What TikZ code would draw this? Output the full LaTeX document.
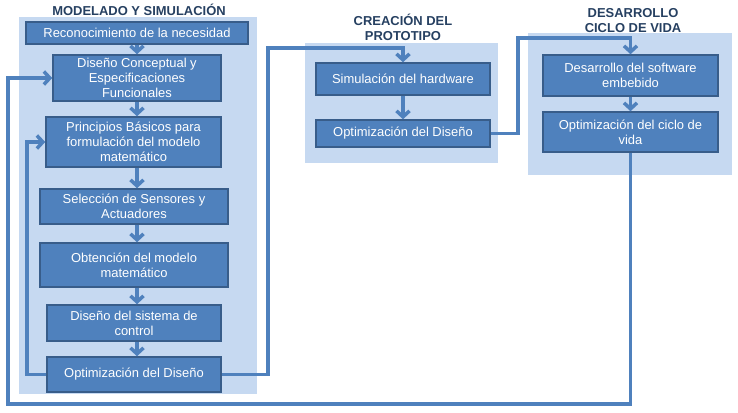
\documentclass[tikz,border=0pt]{standalone}
\usepackage{fontspec}
\setmainfont{Liberation Sans}
\usetikzlibrary{arrows.meta}
\definecolor{panelblue}{RGB}{198,217,241}
\definecolor{boxblue}{RGB}{79,129,189}
\definecolor{boxedge}{RGB}{56,93,138}
\definecolor{titleblue}{RGB}{38,64,97}

\begin{document}
\begin{tikzpicture}[x=1bp,y=-1bp,
  panel/.style={fill=panelblue},
  caja/.style={draw=boxedge,line width=1.5bp,fill=boxblue,text=white,align=center,
    font=\fontsize{13}{15}\selectfont,inner sep=2bp},
  titulo/.style={text=titleblue,font=\fontsize{13}{15}\selectfont\bfseries,align=center},
  flecha/.style={draw=boxblue,line width=3.5bp,-{Straight Barb[length=6bp,width=13bp]}}]
  \useasboundingbox (0,0) rectangle (738,412);

  %Panels (background)
  \fill[panel] (19,17) rectangle (257,394);
  \fill[panel] (305,43) rectangle (498,163);
  \fill[panel] (528,33) rectangle (732,175);

  %Titles
  \node[titulo] (t1) at (139,10) {MODELADO Y SIMULACIÓN};
  \node[titulo] (t2) at (403,27) {CREACIÓN DEL\\PROTOTIPO};
  \node[titulo] (t3) at (633,21) {DESARROLLO\\CICLO DE VIDA};

  %Modelado y simulacion
  \node[caja,minimum width=222bp,minimum height=22bp] (rec) at (137,33) {Reconocimiento de la necesidad};
  \node[caja,minimum width=168bp,minimum height=46bp] (dis) at (137,78) {Diseño Conceptual y\\Especificaciones\\Funcionales};
  \node[caja,minimum width=175bp,minimum height=50bp] (pri) at (133.5,142) {Principios Básicos para\\formulación del modelo\\matemático};
  \node[caja,minimum width=188bp,minimum height=35bp] (sel) at (134,206.5) {Selección de Sensores y\\Actuadores};
  \node[caja,minimum width=188bp,minimum height=44bp] (obt) at (134,265) {Obtención del modelo\\matemático};
  \node[caja,minimum width=174bp,minimum height=36bp] (dsc) at (134,323) {Diseño del sistema de\\control};
  \node[caja,minimum width=174bp,minimum height=35bp] (opt1) at (134,374.5) {Optimización del Diseño};

  %Prototipo
  \node[caja,minimum width=174bp,minimum height=32bp] (sim) at (403,79) {Simulación del hardware};
  \node[caja,minimum width=174bp,minimum height=27bp] (opt2) at (403,133.5) {Optimización del Diseño};

  %Ciclo de vida
  \node[caja,minimum width=175bp,minimum height=41bp] (emb) at (630.5,75.5) {Desarrollo del software\\embebido};
  \node[caja,minimum width=175bp,minimum height=40bp] (ocv) at (630.5,132) {Optimización del ciclo de\\vida};

  %Arrows between boxes
  \foreach \a/\b in {rec/dis,dis/pri,pri/sel,sel/obt,obt/dsc,dsc/opt1}
    \draw[flecha] (\a.south -| rec.south) -- (\b.north -| rec.south);
  \draw[flecha] (sim) -- (opt2);
  \draw[flecha] (emb) -- (ocv);

  %Feedback and links
  \coordinate (k1) at (268,48);
  \coordinate (k2) at (518,38);
  \coordinate (k3) at (8,404);
  \draw[flecha] (opt1.west) -- ++(-19,0) |- (pri.west);
  \draw[flecha] (opt1.east) -| (k1) -| (sim.north);
  \draw[flecha] (opt2.east) -| (k2) -| (emb.north);
  \draw[flecha] (ocv.south) |- (k3) |- (dis.west);

\end{tikzpicture}
\end{document}
